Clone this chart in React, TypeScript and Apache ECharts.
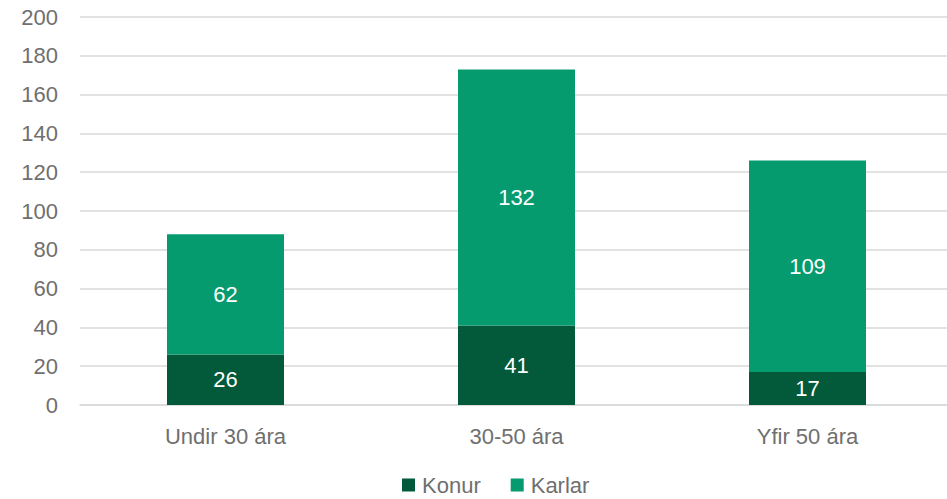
import React, { useEffect, useRef } from "react";
import * as echarts from "echarts";

const categories = ["Undir 30 ára", "30-50 ára", "Yfir 50 ára"];
const konur = [26, 41, 17];
const karlar = [62, 132, 109];
const yTicks = { min: 0, max: 200, interval: 20 };

const FONT = "'Liberation Sans', Arial, sans-serif";
const TEXT = "#6f6f6f";
const DARK = "#035a3a";
const LIGHT = "#059b6f";

export default function App() {
  const ref = useRef<HTMLDivElement>(null);
  useEffect(() => {
    if (!ref.current) return;
    const chart = echarts.init(ref.current, null, { renderer: "svg" });
    const label = {
      show: true,
      position: "inside",
      color: "#ffffff",
      fontSize: 22,
      fontFamily: FONT,
    };
    chart.setOption({
      animation: false,
      backgroundColor: "#ffffff",
      textStyle: { fontFamily: FONT },
      grid: { left: 80, top: 17, width: 873, height: 388, containLabel: false },
      legend: {
        left: 402,
        top: 473,
        padding: 0,
        icon: "rect",
        itemWidth: 13,
        itemHeight: 13,
        itemGap: 30,
        textStyle: { color: TEXT, fontSize: 22, fontFamily: FONT, padding: [0, 0, 0, 2], lineHeight: 24 },
        data: ["Konur", "Karlar"],
      },
      xAxis: {
        type: "category",
        data: categories,
        axisTick: { show: false },
        axisLine: { lineStyle: { color: "#d9d9d9", width: 1.5 } },
        axisLabel: { color: TEXT, fontSize: 22, fontFamily: FONT, margin: 20 },
      },
      yAxis: {
        type: "value",
        min: yTicks.min,
        max: yTicks.max,
        interval: yTicks.interval,
        axisLine: { show: false },
        axisTick: { show: false },
        splitLine: { lineStyle: { color: "#d9d9d9", width: 1.5 } },
        axisLabel: { color: TEXT, fontSize: 22, fontFamily: FONT, margin: 22 },
      },
      series: [
        {
          name: "Konur",
          type: "bar",
          stack: "total",
          data: konur,
          barWidth: 117,
          itemStyle: { color: DARK },
          label,
        },
        {
          name: "Karlar",
          type: "bar",
          stack: "total",
          data: karlar,
          barWidth: 117,
          itemStyle: { color: LIGHT },
          label,
        },
      ],
    });
    return () => chart.dispose();
  }, []);
  return (
    <div style={{ position: "fixed", left: 0, top: 0, width: 947, height: 499, overflow: "hidden", background: "#fff" }}>
      <div ref={ref} style={{ width: 960, height: 499 }} />
    </div>
  );
}
